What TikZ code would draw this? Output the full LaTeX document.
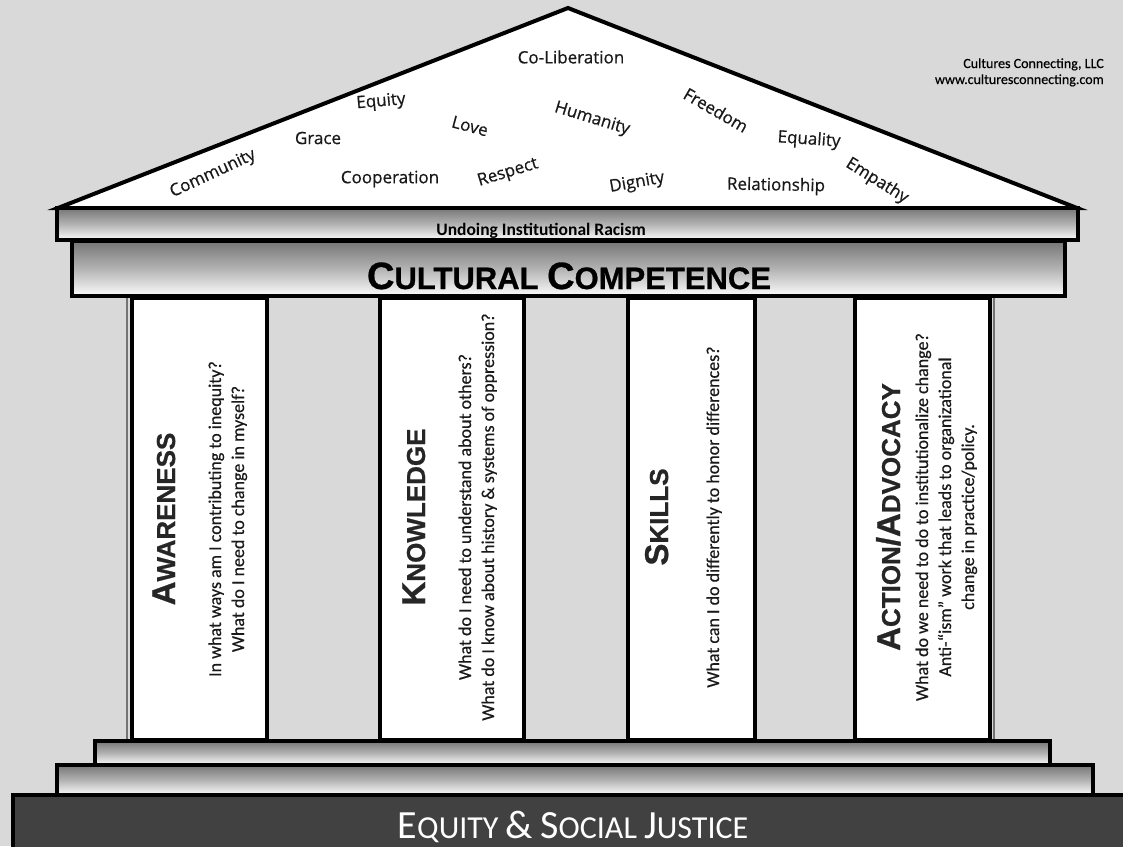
\documentclass[tikz,border=0pt]{standalone}
\usepackage{fontspec}
\setmainfont{Carlito}
\newfontfamily\roofff{Open Sans}[FakeBold=0.6]
\newfontfamily\headff{Liberation Sans}[BoldFeatures={FakeBold=0.8}]
\newfontfamily\calff{Carlito}[FakeBold=0.4]
\newfontfamily\calplain{Carlito}
\definecolor{bggray}{HTML}{D9D9D9}
\definecolor{basegray}{HTML}{414141}
% vertical shading: 0bp is the bottom, 100bp the top
\pgfdeclareverticalshading{bandshade}{100bp}{color(0bp)=(white); color(24bp)=(white); color(50bp)=(black!30); color(100bp)=(black!78)}
\newcommand\bsc[4]{{\fontsize{#1}{#1}\selectfont #3}{\fontsize{#2}{#2}\selectfont #4}}
\begin{document}
\begin{tikzpicture}[x=1pt,y=-1pt,
  frame/.style={draw=black,line width=4pt,line join=miter},
  band/.style={frame,shading=bandshade},
  roofword/.style={font=\roofff\fontsize{17}{20}\selectfont,inner sep=0pt,text=black!90},
  colhead/.style={font=\headff\bfseries,rotate=90,anchor=base,inner sep=0pt,text=black!85},
  colline/.style={font=\calff\fontsize{18}{20}\selectfont,rotate=90,anchor=base,inner sep=0pt,text=black!90},
]
\fill[bggray] (0,0) rectangle (1123,846);
\useasboundingbox (0,0) rectangle (1123,846);

% backdrop between columns
\draw[fill=bggray,draw=black!55,line width=1.2pt] (127,296) rectangle (994,741);
% columns
\draw[frame,fill=white] (132,298) rectangle (267,740);
\draw[frame,fill=white] (380,298) rectangle (524,740);
\draw[frame,fill=white] (628,298) rectangle (755,740);
\draw[frame,fill=white] (855,298) rectangle (990,740);

% roof
\draw[frame,fill=white] (58,208) -- (568,8) -- (1077,208) -- cycle;
% entablature
\draw[band] (57,208) rectangle (1078,240);
\draw[band] (72,241) rectangle (1065,296);
% steps and base
\draw[band] (95,741) rectangle (1050,765);
\draw[band] (57,765) rectangle (1093,795);
\draw[frame,fill=basegray] (13,795) rectangle (1140,870);

% roof words
\node[roofword] (w1) at (571,57) {Co-Liberation};
\node[roofword,rotate=5] (w2) at (381,102) {Equity};
\node[roofword] (w3) at (318,138) {Grace};
\node[roofword,rotate=-15] (w4) at (470,126) {Love};
\node[roofword,rotate=-17] (w5) at (592,119) {Humanity};
\node[roofword,rotate=-30] (w6) at (716,110) {Freedom};
\node[roofword,rotate=-4] (w7) at (809,140) {Equality};
\node[roofword,rotate=-32] (w8) at (877,181) {Empathy};
\node[roofword,rotate=25] (w9) at (213,174) {Community};
\node[roofword] (w10) at (390,179) {Cooperation};
\node[roofword,rotate=17] (w11) at (508,173) {Respect};
\node[roofword,rotate=10] (w12) at (637,183) {Dignity};
\node[roofword,rotate=-1] (w13) at (776,186) {Relationship};

% credit
\node[font=\calff\fontsize{14}{16}\selectfont,anchor=base east,inner sep=0pt] (cr1) at (1104,68) {Cultures Connecting, LLC};
\node[font=\calff\fontsize{14}{16}\selectfont,anchor=base east,inner sep=0pt] (cr2) at (1104,84) {www.culturesconnecting.com};

% band texts
\node[font=\calplain\bfseries\fontsize{17.5}{20}\selectfont,anchor=base,inner sep=0pt] (undo) at (541,235) {Undoing Institutional Racism};
\node[font=\headff\bfseries\fontsize{31}{31}\selectfont,anchor=base,inner sep=0pt] (cc) at (569,289) {\bsc{38}{31}{C}{ULTURAL} \bsc{38}{31}{C}{OMPETENCE}};
\node[font=\calplain\fontsize{32}{32}\selectfont,anchor=base,inner sep=0pt,text=white] (esj) at (573,838) {\bsc{40}{32}{E}{QUITY} {\fontsize{40}{40}\selectfont\&} \bsc{40}{32}{S}{OCIAL} \bsc{40}{32}{J}{USTICE}};

% column 1
\node[colhead] (h1) at (175,519) {\bsc{33}{26}{A}{WARENESS}};
\node[colline] (a1) at (221,519) {In what ways am I contributing to inequity?};
\node[colline] (a2) at (244,519) {What do I need to change in myself?};
% column 2
\node[colhead] (h2) at (425,517) {\bsc{33}{26}{K}{NOWLEDGE}};
\node[colline] (k1) at (471,517) {What do I need to understand about others?};
\node[colline] (k2) at (494,517) {What do I know about history \& systems of oppression?};
% column 3
\node[colhead] (h3) at (668,517) {\bsc{33}{26}{S}{KILLS}};
\node[colline] (s1) at (719,517) {What can I do differently to honor differences?};
% column 4
\node[colhead] (h4) at (900,517) {\bsc{33}{26}{A}{CTION}{\fontsize{33}{33}\selectfont/}\bsc{33}{26}{A}{DVOCACY}};
\node[colline] (c1) at (928,517) {What do we need to do to institutionalize change?};
\node[colline] (c2) at (951,517) {Anti-“ism” work that leads to organizational};
\node[colline] (c3) at (974,517) {change in practice/policy.};
\end{tikzpicture}
\end{document}
